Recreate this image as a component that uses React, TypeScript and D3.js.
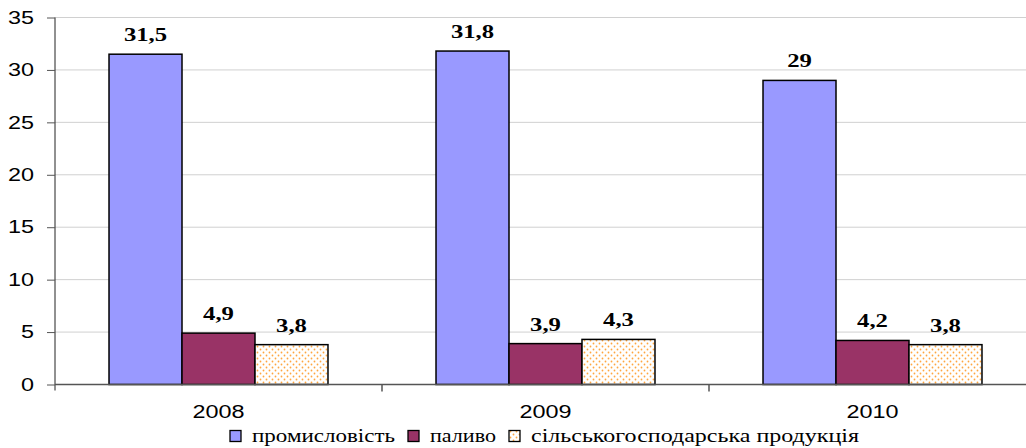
// @ts-nocheck
import React, { useEffect, useRef } from "react";
import * as d3 from "d3";

const years = ["2008", "2009", "2010"];
const seriesNames = ["промисловість", "паливо", "сільськогосподарська продукція"];
const industry = [31.5, 31.8, 29];
const fuel = [4.9, 3.9, 4.2];
const agro = [3.8, 4.3, 3.8];
const yTicks = [0, 5, 10, 15, 20, 25, 30, 35];
const legendWidths = [143, 66, 328];

const fills = ["#9999FF", "#993366", "url(#dots)"];

// the reference text is drawn horizontally stretched
const stretch = (sel, k) =>
  sel.each(function () {
    const len = this.getComputedTextLength();
    d3.select(this).attr("textLength", len * k).attr("lengthAdjust", "spacingAndGlyphs");
  });

const App = () => {
  const svgRef = useRef();

  useEffect(() => {
    const svg = d3.select(svgRef.current);
    svg.selectAll("*").remove();

    const width = 1026,
      height = 448,
      margin = { top: 17.5, right: 0, bottom: 63.5, left: 55 };

    const defs = svg.append("defs");
    const pat = defs
      .append("pattern")
      .attr("id", "dots")
      .attr("patternUnits", "userSpaceOnUse")
      .attr("width", 6)
      .attr("height", 6);
    pat.append("rect").attr("width", 6).attr("height", 6).attr("fill", "#fff");
    pat.append("circle").attr("cx", 1.5).attr("cy", 1.5).attr("r", 0.9).attr("fill", "#FFA640");
    pat.append("circle").attr("cx", 4.5).attr("cy", 4.5).attr("r", 0.9).attr("fill", "#FFA640");

    const x = d3
      .scaleBand()
      .domain(years)
      .range([margin.left, margin.left + 327 * 3]);

    const inner = d3
      .scaleBand()
      .domain(seriesNames)
      .range([0, x.bandwidth()])
      .paddingInner(0)
      .paddingOuter(0.74);

    const y = d3
      .scaleLinear()
      .domain([0, 35])
      .range([height - margin.bottom, margin.top]);

    // gridlines
    svg
      .append("g")
      .selectAll("line")
      .data(yTicks.filter(d => d > 0))
      .join("line")
      .attr("x1", margin.left)
      .attr("x2", width)
      .attr("y1", d => y(d))
      .attr("y2", d => y(d))
      .attr("stroke", "#d0d0d0")
      .attr("stroke-width", 1);

    // y axis
    const yAxis = svg
      .append("g")
      .attr("transform", `translate(${margin.left},0)`)
      .call(d3.axisLeft(y).tickValues(yTicks).tickSize(8).tickPadding(13));
    yAxis.select(".domain").attr("stroke", "#222").attr("d", `M0,${y(35)}V${y(0) + 6}`);
    yAxis.selectAll(".tick line").attr("stroke", "#555");
    yAxis
      .selectAll(".tick text")
      .attr("font-family", "Liberation Sans, Arial, sans-serif")
      .attr("font-size", 18)
      .attr("fill", "#000")
      .call(stretch, 1.3);

    const series = [industry, fuel, agro];

    const groups = svg
      .append("g")
      .selectAll("g")
      .data(years)
      .join("g")
      .attr("transform", d => `translate(${x(d)},0)`);

    groups
      .selectAll("rect")
      .data((d, i) => seriesNames.map((s, k) => ({ s, k, v: series[k][i] })))
      .join("rect")
      .attr("x", d => inner(d.s))
      .attr("width", inner.bandwidth())
      .attr("y", d => y(d.v))
      .attr("height", d => y(0) - y(d.v))
      .attr("fill", d => fills[d.k])
      .attr("stroke", "#000")
      .attr("stroke-width", 1.5);

    groups
      .selectAll("text")
      .data((d, i) => seriesNames.map((s, k) => ({ s, k, v: series[k][i] })))
      .join("text")
      .attr("x", d => inner(d.s) + inner.bandwidth() / 2)
      .attr("y", d => y(d.v) - 13)
      .attr("text-anchor", "middle")
      .attr("font-family", "Liberation Serif, Times New Roman, serif")
      .attr("font-weight", "bold")
      .attr("font-size", 19)
      .text(d => String(d.v).replace(".", ","))
      .call(stretch, 1.3);

    // x axis
    const xAxis = svg
      .append("g")
      .attr("transform", `translate(0,${y(0)})`);
    xAxis
      .append("line")
      .attr("x1", margin.left)
      .attr("x2", width)
      .attr("stroke", "#555")
      .attr("stroke-width", 1.5);
    xAxis
      .selectAll("line.tk")
      .data(years.slice(1))
      .join("line")
      .attr("class", "tk")
      .attr("x1", d => x(d))
      .attr("x2", d => x(d))
      .attr("y1", 0)
      .attr("y2", 7)
      .attr("stroke", "#555")
      .attr("stroke-width", 1.5);
    xAxis
      .selectAll("text")
      .data(years)
      .join("text")
      .attr("x", d => x(d) + x.bandwidth() / 2)
      .attr("y", 33.5)
      .attr("text-anchor", "middle")
      .attr("font-family", "Liberation Sans, Arial, sans-serif")
      .attr("font-size", 18)
      .text(d => d)
      .call(stretch, 1.3);

    // legend
    const legend = svg.append("g").attr("transform", "translate(230,436)");
    let lx = 0;
    seriesNames.forEach((name, k) => {
      const item = legend.append("g").attr("transform", `translate(${lx},0)`);
      item
        .append("rect")
        .attr("x", 0)
        .attr("y", -5.5)
        .attr("width", 11)
        .attr("height", 11)
        .attr("fill", fills[k])
        .attr("stroke", "#000")
        .attr("stroke-width", 1.3);
      item
        .append("text")
        .attr("x", 22)
        .attr("y", 5.5)
        .attr("font-family", "Liberation Serif, Times New Roman, serif")
        .attr("font-size", 18)
        .attr("textLength", legendWidths[k])
        .attr("lengthAdjust", "spacingAndGlyphs")
        .text(name);
      lx += 22 + legendWidths[k] + 13;
    });
  }, []);

  return (
    <svg
      ref={svgRef}
      width={1026}
      height={448}
      style={{ position: "absolute", left: 0, top: 0, background: "#fff" }}
    ></svg>
  );
};

export default App;
